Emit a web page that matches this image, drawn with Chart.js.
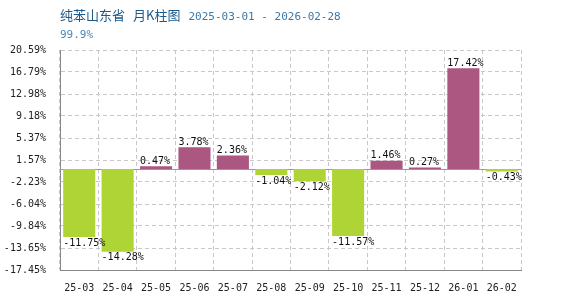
<!DOCTYPE html>
<html><head><meta charset="utf-8">
<script src="https://cdn.jsdelivr.net/npm/chart.js@4/dist/chart.umd.min.js"></script>
<style>
html,body{margin:0;padding:0;background:#fff;}
#wrap{position:relative;width:570px;height:300px;}
#t1{position:absolute;left:60px;top:6px;font:13px "Noto Sans CJK SC";color:#1b5a8c;white-space:pre;line-height:18px;}
#t1 .g{margin-left:8px;}
#t1 .d{font:11px "DejaVu Sans Mono";color:#3a78a8;margin-left:8px;}
#t2{position:absolute;left:60px;top:28px;font:11px "DejaVu Sans Mono";color:#4a88b8;}
canvas{position:absolute;left:0;top:0;}
</style></head><body>
<div id="wrap">
<canvas id="c" width="570" height="300"></canvas>
<div id="t1">纯苯山东省<span class="g">月K柱图</span><span class="d">2025-03-01 - 2026-02-28</span></div>
<div id="t2">99.9%</div>
</div>
<script>
const categories = ["25-03","25-04","25-05","25-06","25-07","25-08","25-09","25-10","25-11","25-12","26-01","26-02"];
const values = [-11.75,-14.28,0.47,3.78,2.36,-1.04,-2.12,-11.57,1.46,0.27,17.42,-0.43];
const yTicks = [-17.45,-13.65,-9.84,-6.04,-2.23,1.57,5.37,9.18,12.98,16.79,20.59];

const UP = '#ab5781', DOWN = '#aed535';
const monoFont = {family:'"DejaVu Sans Mono", monospace', size:10};

const labelPlugin = {
  id:'labels',
  afterDatasetsDraw(chart){
    const ctx = chart.ctx;
    const meta = chart.getDatasetMeta(0);
    ctx.save();
    ctx.font = '10px "DejaVu Sans Mono", monospace';
    ctx.fillStyle = '#111';
    ctx.textAlign = 'left';
    meta.data.forEach((bar,i)=>{
      const v = values[i];
      const x = bar.x - bar.width/2;
      const txt = v.toFixed(2)+'%';
      if (v >= 0){ ctx.textBaseline='bottom'; ctx.fillText(txt, x, bar.y); }
      else { ctx.textBaseline='top'; ctx.fillText(txt, x, bar.y+1); }
    });
    ctx.restore();
  }
};
const zeroPlugin = {
  id:'zero',
  beforeDatasetsDraw(chart){
    const y = Math.round(chart.scales.y.getPixelForValue(0))+0.5;
    const ctx = chart.ctx, a = chart.chartArea;
    ctx.save(); ctx.strokeStyle='#999'; ctx.lineWidth=1;
    ctx.beginPath(); ctx.moveTo(a.left,y); ctx.lineTo(a.right,y); ctx.stroke(); ctx.restore();
  }
};

new Chart(document.getElementById('c'),{
  type:'bar',
  data:{labels:categories,datasets:[{data:values,
    backgroundColor:values.map(v=>v>=0?UP:DOWN),
    barPercentage:0.835,categoryPercentage:1}]},
  options:{
    responsive:false,animation:false,
    layout:{padding:{left:0,right:49,top:50,bottom:0}},
    plugins:{legend:{display:false},tooltip:{enabled:false},title:{display:false}},
    scales:{
      x:{
        grid:{color:'#c8c8c8',drawTicks:false,offset:true},
        border:{display:true,color:'#888',dash:[4,3]},
        ticks:{font:monoFont,color:'#222',padding:12,maxRotation:0,autoSkip:false},
        afterFit(s){s.height=30;}
      },
      y:{
        min:-17.45,max:20.59,
        grid:{color:'#c8c8c8',drawTicks:false},
        border:{display:true,color:'#888',dash:[4,3]},
        afterBuildTicks(s){s.ticks = yTicks.map(v=>({value:v}));},
        ticks:{font:monoFont,color:'#222',padding:14,callback:v=>v.toFixed(2)+'%'},
        afterFit(s){s.width=60;}
      }
    }
  },
  plugins:[zeroPlugin,labelPlugin]
});
</script>
</body></html>
